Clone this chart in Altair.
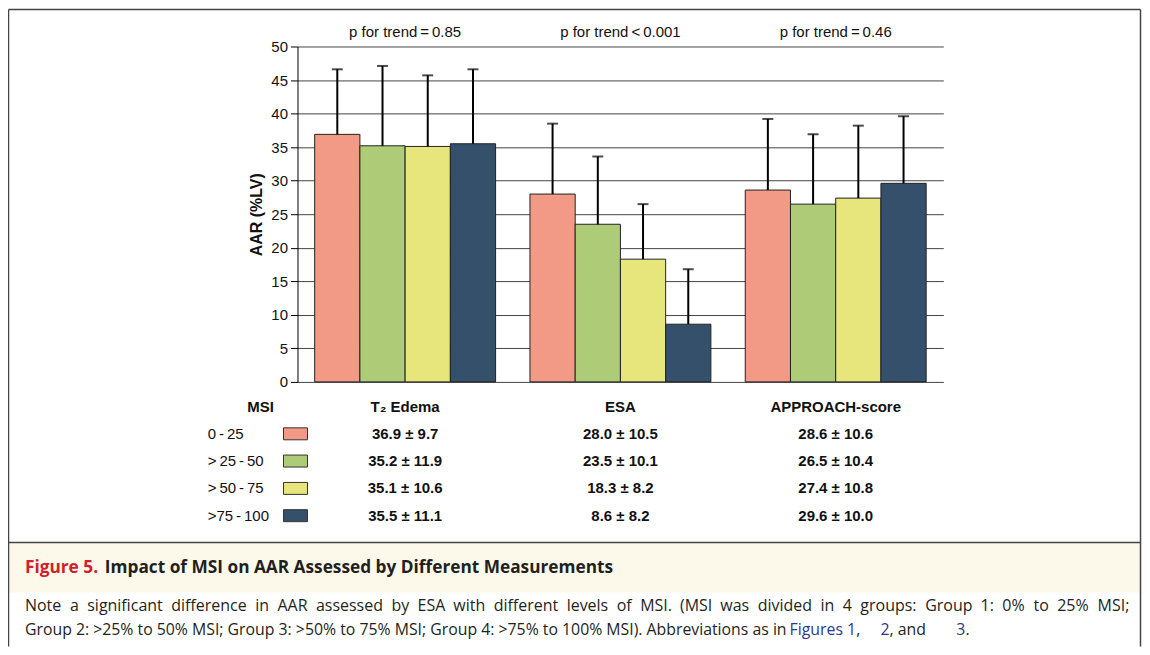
import altair as alt
import pandas as pd

measures = ["T\u2082 Edema", "ESA", "APPROACH-score"]
msi_groups = ["0\u2009-\u200925", ">\u200925\u2009-\u200950", ">\u200950\u2009-\u200975", ">75\u2009-\u2009100"]
colors = ["#F39A86", "#AECB78", "#E6E67D", "#34506B"]
means_t2 = [36.9, 35.2, 35.1, 35.5]
sds_t2 = [9.7, 11.9, 10.6, 11.1]
means_esa = [28.0, 23.5, 18.3, 8.6]
sds_esa = [10.5, 10.1, 8.2, 8.2]
means_app = [28.6, 26.5, 27.4, 29.6]
sds_app = [10.6, 10.4, 10.8, 10.0]
p_trend = ["p for trend\u2009=\u20090.85", "p for trend\u2009<\u20090.001", "p for trend\u2009=\u20090.46"]
y_ticks = [0, 5, 10, 15, 20, 25, 30, 35, 40, 45, 50]

rows = []
for m, mv, sv in zip(measures, [means_t2, means_esa, means_app], [sds_t2, sds_esa, sds_app]):
    for i, (g, a, s) in enumerate(zip(msi_groups, mv, sv)):
        rows.append({"measure": m, "msi": g, "row": i, "mean": a, "sd": s,
                     "upper": round(a + s, 2), "label": f"{a:.1f} \u00b1 {s:.1f}"})
df = pd.DataFrame(rows)
grp = pd.DataFrame({"msi": msi_groups, "row": list(range(len(msi_groups)))})
meas_df = pd.DataFrame({"measure": measures, "p": p_trend})
one = pd.DataFrame({"a": [0]})

FONT = "Liberation Sans"
CAP = "Open Sans"

x_enc = alt.X("measure:N", sort=measures,
              scale=alt.Scale(domain=measures, paddingInner=0, paddingOuter=0), axis=None)
xo_enc = alt.XOffset("msi:N", sort=msi_groups,
                     scale=alt.Scale(domain=msi_groups, paddingInner=0, paddingOuter=0.38))
color_enc = alt.Color("msi:N", scale=alt.Scale(domain=msi_groups, range=colors), legend=None)

y_axis = alt.Axis(values=y_ticks, title="AAR (%LV)", grid=True, gridColor="#444",
                  gridWidth=1, domainColor="#000", tickColor="#000", tickSize=7,
                  labelPadding=3, labelFont=FONT, labelFontSize=15, labelColor="#111",
                  labelOverlap=False,
                  titleFont=FONT, titleFontSize=16, titleFontWeight="bold",
                  titleColor="#111", titlePadding=6)
y_scale = alt.Scale(domain=[0, 50], nice=False)

base = alt.Chart(df)
bars = base.mark_bar(stroke="#222", strokeWidth=1).encode(
    x=x_enc, xOffset=xo_enc,
    y=alt.Y("mean:Q", scale=y_scale, axis=y_axis),
    color=color_enc)
err = base.mark_rule(color="#000", strokeWidth=2).encode(
    x=x_enc, xOffset=xo_enc, y=alt.Y("mean:Q", scale=y_scale, axis=y_axis), y2="upper:Q")
caps = base.mark_tick(color="#000", thickness=2, size=11, orient="horizontal").encode(
    x=x_enc, xOffset=xo_enc, y=alt.Y("upper:Q", scale=y_scale, axis=y_axis))

ptext = alt.Chart(meas_df).mark_text(font=FONT, fontSize=15, color="#111", baseline="middle").encode(
    x=x_enc, y=alt.value(-15), text="p:N")
heads = alt.Chart(meas_df).mark_text(font=FONT, fontSize=15, fontWeight="bold", color="#111",
                                     baseline="middle").encode(
    x=x_enc, y=alt.value(361), text="measure:N")
msi_head = alt.Chart(one).mark_text(font=FONT, fontSize=15, fontWeight="bold", color="#111",
                                    baseline="middle", text="MSI").encode(
    x=alt.value(-37), y=alt.value(361))

# table rows (pixel rows below the plot)
row_px = [388, 415.3, 442.7, 470]
table = []
for i, ry in enumerate(row_px):
    flt = alt.datum.row == i
    table.append(alt.Chart(df).transform_filter(flt).mark_text(
        font=FONT, fontSize=15, fontWeight="bold", color="#111", baseline="middle").encode(
        x=x_enc, y=alt.value(ry), text="label:N"))
    table.append(alt.Chart(grp).transform_filter(flt).mark_text(
        font=FONT, fontSize=15, color="#111", align="left", baseline="middle").encode(
        x=alt.value(-90), y=alt.value(ry), text="msi:N"))
    table.append(alt.Chart(grp).transform_filter(flt).mark_rect(
        stroke="#333", strokeWidth=1).encode(
        x=alt.value(-14), x2=alt.value(10), y=alt.value(ry - 6), y2=alt.value(ry + 6),
        color=color_enc))

B = "#444"
deco = [
    alt.Chart(one).mark_rect(color="#FDF9EA").encode(
        x=alt.value(-289), x2=alt.value(844), y=alt.value(497), y2=alt.value(547)),
    alt.Chart(one).mark_rule(color=B, strokeWidth=1.5).encode(
        x=alt.value(-289.5), y=alt.value(-37), y2=alt.value(601)),
    alt.Chart(one).mark_rule(color=B, strokeWidth=1.5).encode(
        x=alt.value(844.5), y=alt.value(-37), y2=alt.value(601)),
    alt.Chart(one).mark_rule(color=B, strokeWidth=1.5).encode(
        x=alt.value(-289.5), x2=alt.value(844.5), y=alt.value(-37)),
    alt.Chart(one).mark_rule(color=B, strokeWidth=1.5).encode(
        x=alt.value(-289.5), x2=alt.value(844.5), y=alt.value(497)),
]

def txt(s, x, y, color="#231F20", weight="normal", size=16, align="left"):
    return alt.Chart(one).mark_text(font=CAP, fontSize=size, fontWeight=weight, color=color,
                                    align=align, baseline="middle", text=s).encode(
        x=alt.value(x), y=alt.value(y))

# approximate Open Sans advance widths (em) for laying out the caption
OW = {' ': .26, 'a': .556, 'b': .613, 'c': .476, 'd': .613, 'e': .561, 'f': .339, 'g': .548,
      'h': .614, 'i': .253, 'j': .253, 'k': .53, 'l': .253, 'm': .93, 'n': .614, 'o': .604,
      'p': .613, 'q': .613, 'r': .408, 's': .477, 't': .353, 'u': .614, 'v': .501, 'w': .778,
      'x': .524, 'y': .502, 'z': .468, 'A': .633, 'B': .647, 'E': .556, 'F': .516, 'G': .7,
      'I': .279, 'M': .903, 'N': .77, 'R': .613, 'S': .52, '.': .266, ',': .244, ':': .266,
      ';': .266, '%': .855, '(': .295, ')': .295, '>': .572}

def tw(s, size=16):
    return sum(OW.get(c, .572) for c in s) * size

RED = "#D0202E"
BLUE = "#2B3990"
DARK = "#231F20"
X0 = -273          # caption left edge (plot coords)
X1 = 833           # justified right edge of line 1
caption = [
    txt("Figure 5.", X0, 522, RED, "bold", 17.3),
    txt("Impact of MSI on AAR Assessed by Different Measurements", -193, 522, DARK, "bold", 17.3),
]
line1 = ("Note a significant difference in AAR assessed by ESA with different levels of MSI. "
         "(MSI was divided in 4 groups: Group 1: 0% to 25% MSI;").split(" ")
ww = [tw(w) for w in line1]
gap = (X1 - X0 - sum(ww)) / (len(line1) - 1)
xp = X0
for w, wd in zip(line1, ww):
    caption.append(txt(w, xp, 560))
    xp += wd + gap

S2 = 15.85
caption.append(txt("Group 2: >25% to 50% MSI; Group 3: >50% to 75% MSI; Group 4: >75% to 100% MSI). "
                   "Abbreviations as in", X0, 585, DARK, size=S2))
fig_x = 493
caption.append(txt("Figures 1", fig_x, 585, BLUE, size=S2))
caption.append(txt(",", fig_x + tw("Figures 1", S2), 585, DARK, size=S2))
two_x = 584
caption.append(txt("2", two_x, 585, BLUE, size=S2))
caption.append(txt(", and", two_x + tw("2", S2), 585, DARK, size=S2))
three_x = 660
caption.append(txt("3", three_x, 585, BLUE, size=S2))
caption.append(txt(".", three_x + tw("3", S2), 585, DARK, size=S2))

chart = alt.layer(*deco, bars, err, caps, ptext, heads, msi_head, *table, *caption).properties(
    width=647, height=336,
    autosize=alt.AutoSizeParams(type="none"),
    padding={"left": 290, "top": 38, "right": 199, "bottom": 265},
    background="white",
).configure_view(stroke=None)

chart.save("out.html", embed_options={"renderer": "svg", "actions": False})
